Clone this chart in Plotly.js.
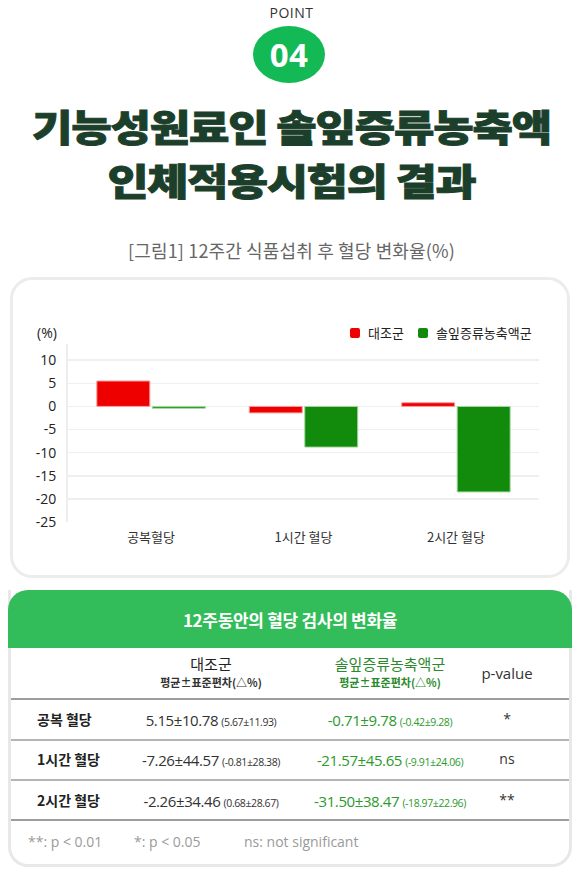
<!DOCTYPE html>
<html>
<head>
<meta charset="utf-8">
<script src="https://cdn.plot.ly/plotly-3.0.1.min.js"></script>
<style>
  html, body { margin:0; padding:0; background:#fff; }
  body { width:583px; height:882px; position:relative; overflow:hidden;
         font-family:"Noto Sans CJK KR","Noto Sans",sans-serif; }
  .abs { position:absolute; }
  #point { left:0; width:583px; top:5px; text-align:center; font-family:"Open Sans","Noto Sans",sans-serif;
           font-size:14px; color:#333; letter-spacing:0.5px; line-height:16px; }
  #badge { left:253px; top:26px; width:72px; height:57px; border-radius:50%; background:#13b955;
           color:#fff; font-family:"Open Sans",sans-serif; font-weight:700; font-size:33px;
           display:flex; align-items:center; justify-content:center; letter-spacing:0.5px; }
  .title { left:0; width:583px; text-align:center; color:#1b3f2b; font-weight:900; font-size:37px;
           line-height:46px; letter-spacing:-1px; white-space:nowrap; -webkit-text-stroke:0.9px #1b3f2b; }
  #sub { left:0; width:583px; top:238px; text-align:center; font-size:18px; color:#666; line-height:24px; letter-spacing:0.15px; }
  #chartbox { left:10px; top:277px; width:554px; height:295px; border:3px solid #ececec; border-radius:22px; }
  #plot { left:10px; top:280px; width:560px; height:298px; }
  #tablebox { left:8px; top:590px; width:558px; height:274px; border:3px solid #e8e8e8; border-top:none;
              border-radius:0 0 20px 20px; }
  #thead { left:8px; top:590px; width:564px; height:58px; background:#33bc5a; border-radius:20px 20px 0 0;
           color:#fff; font-weight:700; font-size:17px; display:flex; align-items:center; justify-content:center; letter-spacing:-0.3px; }
  .num { font-family:"Open Sans","Noto Sans",sans-serif; }
</style>
</head>
<body>
<div id="point" class="abs">POINT</div>
<div id="badge" class="abs">04</div>
<div id="t1" class="abs title" style="top:103px;">기능성원료인 솔잎증류농축액</div>
<div id="t2" class="abs title" style="top:157px;">인체적용시험의 결과</div>
<div id="sub" class="abs">[그림1] 12주간 식품섭취 후 혈당 변화율(%)</div>
<div id="chartbox" class="abs"></div>
<div id="plot" class="abs"></div>
<div id="tablebox" class="abs"></div>
<div id="thead" class="abs"></div>
<div id="tbody" class="abs" style="left:0;top:0;width:583px;height:882px;"></div>
<script>
// ---- chart data ----
const categories = ['공복혈당', '1시간 혈당', '2시간 혈당'];
const seriesNames = ['대조군', '솔잎증류농축액군'];
const controlValues = [5.5, -1.4, 0.8];
const pineValues = [-0.4, -8.8, -18.5];
const yTickValues = [10, 5, 0, -5, -10, -15, -20, -25];
const yUnitLabel = '(%)';

// ---- table data ----
const tableTitle = '12주동안의 혈당 검사의 변화율';
const tableRowLabels = ['공복 혈당', '1시간 혈당', '2시간 혈당'];
const controlMeanSd = ['5.15±10.78', '-7.26±44.57', '-2.26±34.46'];
const controlMeanSdRaw = ['(5.67±11.93)', '(-0.81±28.38)', '(0.68±28.67)'];
const pineMeanSd = ['-0.71±9.78', '-21.57±45.65', '-31.50±38.47'];
const pineMeanSdRaw = ['(-0.42±9.28)', '(-9.91±24.06)', '(-18.97±22.96)'];
const pValues = ['*', 'ns', '**'];
const colHeaders = ['대조군', '솔잎증류농축액군', 'p-value'];
const colSubHeader = '평균±표준편차(△%)';
const footnotes = ['**: p < 0.01', '*: p < 0.05', 'ns: not significant'];

// fit title widths
function fit(id, target) {
  const el = document.getElementById(id);
  const span = document.createElement('span');
  span.textContent = el.textContent; span.style.display='inline-block';
  el.textContent=''; el.appendChild(span);
  const w = span.getBoundingClientRect().width;
  span.style.transform = 'scaleX(' + (target / w) + ')';
}
fit('t1', 519); fit('t2', 368);

const red = '#ee0000', green = '#128a0b';
const colors = [red, green];
const traces = [
  { type:'bar', name:seriesNames[0], x:categories, y:controlValues, showlegend:false,
    marker:{color:red, line:{color:'#ff9c9c', width:1}} },
  { type:'bar', name:seriesNames[1], x:categories, y:pineValues, showlegend:false,
    marker:{color:green, line:{color:'#a6d8a3', width:1}} }
];
// custom legend (rounded squares + labels), positioned in paper space
const legIconX = [0.5987, 0.7431];
const legTextX = [0.6327, 0.7771];
const legY = 1.062;
const shapes = seriesNames.map((n,i)=>({
  type:'path', xref:'paper', yref:'paper', xsizemode:'pixel', ysizemode:'pixel',
  xanchor:legIconX[i], yanchor:legY, path:'M2,-5 H8 Q10,-5 10,-3 V3 Q10,5 8,5 H2 Q0,5 0,3 V-3 Q0,-5 2,-5 Z',
  fillcolor:colors[i], line:{width:0}
}));
const annotations = [{ text:yUnitLabel, xref:'paper', yref:'paper', x:0, y:legY, xanchor:'right', yanchor:'middle',
                 xshift:-9, showarrow:false, font:{size:14, color:'#222'} }];
seriesNames.forEach((n,i)=>annotations.push({ text:n, xref:'paper', yref:'paper', x:legTextX[i], y:legY,
  xanchor:'left', yanchor:'middle', showarrow:false, font:{size:13, color:'#222', family:'"Noto Sans CJK KR",sans-serif'} }));

const layout = {
  width:560, height:298,
  margin:{l:58, r:31, t:64, b:56},
  paper_bgcolor:'rgba(0,0,0,0)', plot_bgcolor:'rgba(0,0,0,0)',
  font:{family:'"Open Sans","Noto Sans CJK KR",sans-serif', color:'#222', size:13},
  barmode:'group', bargap:0.272, bargroupgap:0.045,
  xaxis:{ type:'category', range:[-0.545, 2.545], showgrid:false, showline:false, zeroline:false,
          ticks:'', ticklabelstandoff:6, tickfont:{size:13, color:'#333', family:'"Noto Sans CJK KR",sans-serif'} },
  yaxis:{ range:[-25, 13.5], tickvals:yTickValues, ticktext:yTickValues.map(String),
          showgrid:true, gridcolor:'#efefef', gridwidth:1.5, zeroline:false,
          showline:true, linecolor:'#eeeeee', linewidth:2, ticks:'', ticklabelstandoff:7,
          tickfont:{size:14, color:'#222'} },
  showlegend:false,
  shapes:shapes,
  annotations:annotations
};
Plotly.newPlot('plot', traces, layout, {displayModeBar:false, staticPlot:true});

// ---- table ----
document.getElementById('thead').textContent = tableTitle;
const tb = document.getElementById('tbody');
function add(html, style) { const d=document.createElement('div'); d.className='abs'; d.innerHTML=html; d.setAttribute('style', style); tb.appendChild(d); return d; }
const colX = [211, 390, 507];
function centered(x, y, h, html, extra) {
  return add(html, `left:${x-150}px;width:300px;top:${y-h/2}px;height:${h}px;line-height:${h}px;text-align:center;white-space:nowrap;${extra||''}`);
}
centered(colX[0], 664, 20, colHeaders[0], 'font-size:15px;color:#222;');
centered(colX[0], 682, 16, colSubHeader, 'font-size:11px;font-weight:700;color:#333;');
centered(colX[1], 664, 20, colHeaders[1], 'font-size:15px;color:#2b8a2b;');
centered(colX[1], 682, 16, colSubHeader, 'font-size:11px;font-weight:700;color:#2b8a2b;');
centered(colX[2], 673, 20, colHeaders[2], 'font-size:15px;color:#333;font-family:"Open Sans",sans-serif;');
[[698,2,'#9d9d9d'],[739,1.5,'#b5b5b5'],[779,1.5,'#b5b5b5'],[819,2,'#9d9d9d']].forEach(([y,h,c])=>{
  add('', `left:11px;width:558px;top:${y}px;height:${h}px;background:${c};`);
});
const rowY = [719, 759, 800];
tableRowLabels.forEach((lab,i)=>{
  add(lab, `left:37px;top:${rowY[i]-10}px;height:20px;line-height:20px;font-size:14px;font-weight:700;color:#222;white-space:nowrap;`);
  centered(colX[0], rowY[i], 22, `<span class="num" style="font-size:15px;">${controlMeanSd[i]}</span> <span class="num" style="font-size:10.5px;">${controlMeanSdRaw[i]}</span>`, 'color:#333;letter-spacing:-0.4px;');
  centered(colX[1], rowY[i], 22, `<span class="num" style="font-size:15px;">${pineMeanSd[i]}</span> <span class="num" style="font-size:10.5px;">${pineMeanSdRaw[i]}</span>`, 'color:#2b9a2b;letter-spacing:-0.4px;');
  centered(colX[2], rowY[i], 22, pValues[i], 'font-size:14px;color:#333;font-family:"Open Sans",sans-serif;');
});
const footX = [28, 134, 244];
footnotes.forEach((f,i)=>{
  add(f, `left:${footX[i]}px;top:832px;height:20px;line-height:20px;font-size:14px;color:#9a9a9a;font-family:"Open Sans",sans-serif;white-space:nowrap;`);
});
</script>
</body>
</html>
